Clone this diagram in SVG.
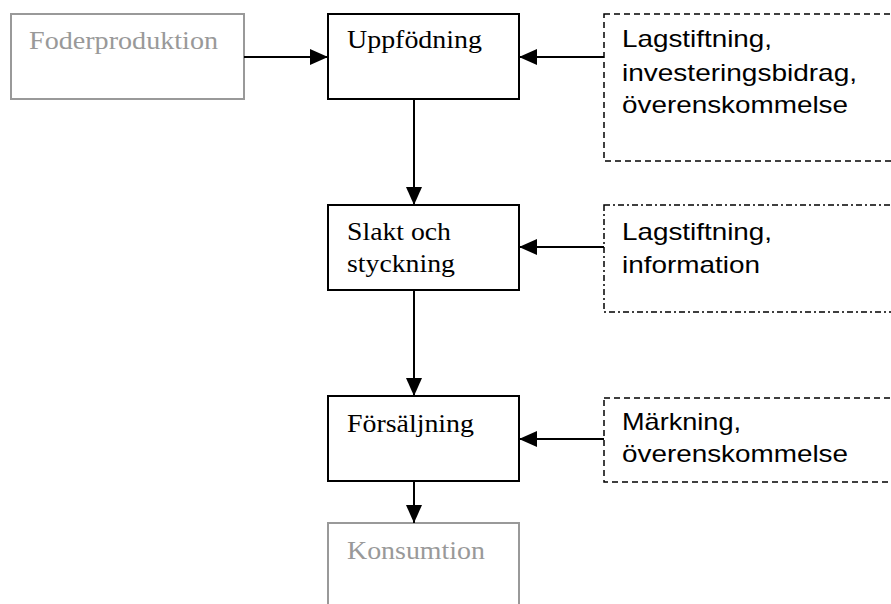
<svg xmlns="http://www.w3.org/2000/svg" width="891" height="604" viewBox="0 0 891 604">
<style>
.box{fill:#fff;stroke:#000;stroke-width:2}
.grey{fill:#fff;stroke:#999;stroke-width:2}
.dash{fill:none;stroke:#000;stroke-width:1.5;stroke-dasharray:6 4}
.dashdot{fill:none;stroke:#000;stroke-width:1.5;stroke-dasharray:6 3 2 3}
.serif{font-family:"Liberation Serif","Times New Roman",serif;font-size:25px;fill:#000}
.gt{fill:#999}
.sans{font-family:"Liberation Sans",Arial,sans-serif;font-size:24px;fill:#000}
.conn{stroke:#000;stroke-width:2;fill:none;marker-end:url(#ah)}
</style>
<defs>
<marker id="ah" markerUnits="userSpaceOnUse" markerWidth="18" markerHeight="18" viewBox="0 0 18 18" refX="18" refY="9" orient="auto">
<path d="M0,1 L18,9 L0,17 Z" fill="#000"/>
</marker>
</defs>
<g id="foderproduktion">
<rect class="grey" x="11" y="14" width="233" height="85"/>
<text class="serif gt" x="29" y="49" textLength="189" lengthAdjust="spacingAndGlyphs">Foderproduktion</text>
</g>
<g id="uppfodning">
<rect class="box" x="328" y="14" width="191" height="85"/>
<text class="serif" x="347" y="48" textLength="135" lengthAdjust="spacingAndGlyphs">Uppfödning</text>
</g>
<g id="slakt">
<rect class="box" x="328" y="205" width="191" height="85"/>
<text class="serif" x="347" y="240" textLength="104" lengthAdjust="spacingAndGlyphs">Slakt och</text>
<text class="serif" x="347" y="272" textLength="108" lengthAdjust="spacingAndGlyphs">styckning</text>
</g>
<g id="forsaljning">
<rect class="box" x="328" y="396" width="191" height="85"/>
<text class="serif" x="347" y="432" textLength="127" lengthAdjust="spacingAndGlyphs">Försäljning</text>
</g>
<g id="konsumtion">
<rect class="grey" x="328" y="523" width="191" height="90"/>
<text class="serif gt" x="347" y="559" textLength="138" lengthAdjust="spacingAndGlyphs">Konsumtion</text>
</g>
<g id="styrmedel1">
<rect class="dash" x="604" y="14" width="295" height="147"/>
<text class="sans" x="622" y="47" textLength="150" lengthAdjust="spacingAndGlyphs">Lagstiftning,</text>
<text class="sans" x="622" y="81" textLength="235" lengthAdjust="spacingAndGlyphs">investeringsbidrag,</text>
<text class="sans" x="622" y="113" textLength="226" lengthAdjust="spacingAndGlyphs">överenskommelse</text>
</g>
<g id="styrmedel2">
<rect class="dashdot" x="604" y="205" width="295" height="107"/>
<text class="sans" x="622" y="240" textLength="150" lengthAdjust="spacingAndGlyphs">Lagstiftning,</text>
<text class="sans" x="622" y="273" textLength="138" lengthAdjust="spacingAndGlyphs">information</text>
</g>
<g id="styrmedel3">
<rect class="dash" x="604" y="398" width="295" height="84"/>
<text class="sans" x="622" y="430" textLength="119" lengthAdjust="spacingAndGlyphs">Märkning,</text>
<text class="sans" x="622" y="462" textLength="226" lengthAdjust="spacingAndGlyphs">överenskommelse</text>
</g>
<g id="connectors">
<path class="conn" d="M244,57 H328"/>
<path class="conn" d="M604,57 H519"/>
<path class="conn" d="M414,99 V205"/>
<path class="conn" d="M604,247 H519"/>
<path class="conn" d="M414,290 V396"/>
<path class="conn" d="M604,439 H519"/>
<path class="conn" d="M414,481 V523"/>
</g>
</svg>
